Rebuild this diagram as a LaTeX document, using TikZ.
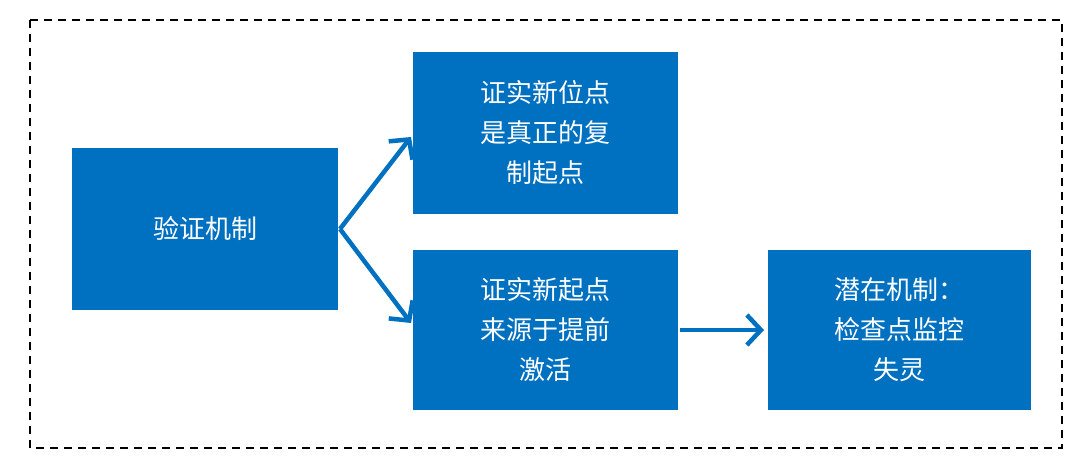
\documentclass[tikz,border=0pt]{standalone}
\usepackage{fontspec}
\setmainfont{Noto Sans CJK SC}
\usetikzlibrary{arrows.meta}
\definecolor{bx}{HTML}{0070C0}
\begin{document}
\begin{tikzpicture}[x=1pt,y=-1pt,
 box/.style={fill=bx,draw=none,text=white,align=center,font=\fontsize{26}{40}\selectfont},
 arr/.style={draw=bx,line width=4.5pt,-{Straight Barb[length=14pt,width=30pt,line width=4.5pt]}}]
\useasboundingbox (0,0) rectangle (1080,471);
\draw[dashed,line width=2pt,dash pattern=on 8pt off 6pt] (30,20) rectangle (1062,448);
\fill[bx] (72,148) rectangle (338,310);
\node[box] (a) at (205,229) {验证机制};
\fill[bx] (413,52) rectangle (678,214);
\node[box] (b) at (545.5,133) {证实新位点\\是真正的复\\制起点};
\fill[bx] (413,250) rectangle (678,410);
\node[box] (c) at (545.5,330) {证实新起点\\来源于提前\\激活};
\fill[bx] (768,250) rectangle (1031,410);
\node[box] (d) at (899.5,330) {潜在机制：\\检查点监控\\失灵};
\coordinate (s) at (340,229);
\coordinate (t1) at (411,137);
\coordinate (t2) at (411,323);
\coordinate (u1) at (680,330);
\coordinate (u2) at (764,330);
\draw[arr] (s) -- (t1);
\draw[arr] (s) -- (t2);
\draw[arr] (u1) -- (u2);
\end{tikzpicture}
\end{document}
